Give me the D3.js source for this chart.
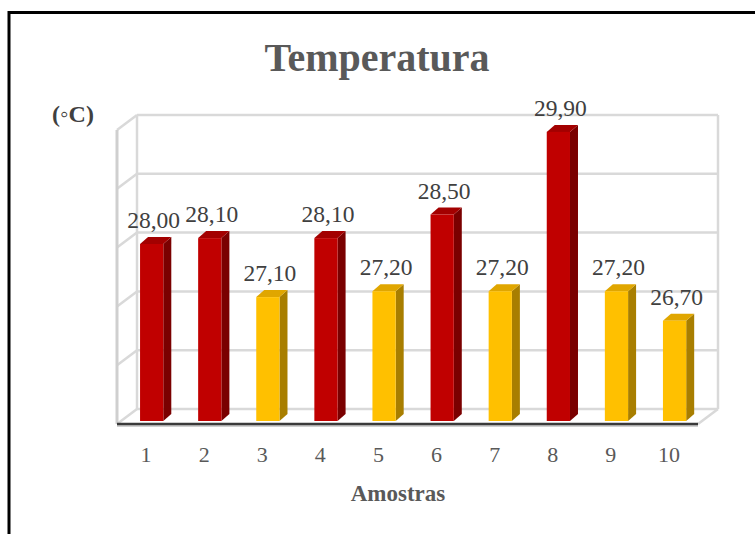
<!DOCTYPE html>
<html>
<head>
<meta charset="utf-8">
<script src="https://cdn.jsdelivr.net/npm/d3@7/dist/d3.min.js"></script>
<style>
  html, body { margin: 0; padding: 0; background: #fff; }
  svg { display: block; }
</style>
</head>
<body>
<svg id="chart" width="755" height="534"></svg>
<script>
const categories = ["1", "2", "3", "4", "5", "6", "7", "8", "9", "10"];
const values = [28.00, 28.10, 27.10, 28.10, 27.20, 28.50, 27.20, 29.90, 27.20, 26.70];
const groups = ["alta", "alta", "baixa", "alta", "baixa", "alta", "baixa", "alta", "baixa", "baixa"];
const yTicks = [25, 26, 27, 28, 29, 30];
const title = "Temperatura";
const xTitle = "Amostras";
const yTitle = "(\u25E6C)";

const svg = d3.select("#chart");
const font = "'Liberation Serif', 'Times New Roman', serif";

// frame
svg.append("rect").attr("x", 9).attr("y", 12.5).attr("width", 800).attr("height", 600)
  .attr("fill", "#fff").attr("stroke", "#000").attr("stroke-width", 3);

// geometry
const depth = { dx: 20, dy: -15 };
const x = d3.scaleBand().domain(categories).range([117, 698]).padding(0);
const yFront = d3.scaleLinear().domain([25, 30]).range([424, 130]);
const yBack = d3.scaleLinear().domain([25, 30]).range([409, 115]);
const yBar = d3.scaleLinear().domain([25, 30]).range([421, 126]);
const xL = x.range()[0], xR = x.range()[1];

const colors = {
  alta:  { front: "#C00000", side: "#7A0000", top: "#A30000" },
  baixa: { front: "#FFC000", side: "#A87E00", top: "#E0A600" }
};

const wallStroke = "#d9d9d9";
const walls = svg.append("g");

walls.selectAll("line.grid").data(yTicks).enter().append("line")
  .attr("x1", xL + depth.dx).attr("x2", xR + depth.dx)
  .attr("y1", d => yBack(d)).attr("y2", d => yBack(d))
  .attr("stroke", wallStroke).attr("stroke-width", 2.5);
walls.selectAll("line.lw").data(yTicks).enter().append("line")
  .attr("x1", xL).attr("x2", xL + depth.dx)
  .attr("y1", d => yFront(d)).attr("y2", d => yBack(d))
  .attr("stroke", wallStroke).attr("stroke-width", 2.5);
walls.append("line").attr("x1", xL + depth.dx).attr("x2", xL + depth.dx)
  .attr("y1", yBack(30)).attr("y2", yBack(25)).attr("stroke", wallStroke).attr("stroke-width", 2.5);
walls.append("line").attr("x1", xR + depth.dx).attr("x2", xR + depth.dx)
  .attr("y1", yBack(30)).attr("y2", yBack(25)).attr("stroke", wallStroke).attr("stroke-width", 2.5);
walls.append("line").attr("x1", xL).attr("x2", xL)
  .attr("y1", yFront(30)).attr("y2", yFront(25)).attr("stroke", "#cfcfcf").attr("stroke-width", 3);
walls.append("line").attr("x1", xR).attr("x2", xR + depth.dx)
  .attr("y1", yFront(25)).attr("y2", yBack(25)).attr("stroke", wallStroke).attr("stroke-width", 2.5);

// bars
const bw = x.bandwidth() * 0.4;
const bOff = 6;
const bd = { dx: 8, dy: -7 };
const bars = svg.append("g").selectAll("g").data(values).enter().append("g");
bars.each(function(v, i) {
  const g = d3.select(this);
  const c = colors[groups[i]];
  const x0 = x(categories[i]) + x.bandwidth() / 2 - bOff;
  const x1 = x0 + bw;
  const yt = yBar(v), yb = yBar(25);
  g.append("path")
    .attr("d", `M${x1},${yt}L${x1 + bd.dx},${yt + bd.dy}L${x1 + bd.dx},${yb + bd.dy}L${x1},${yb}Z`)
    .attr("fill", c.side);
  g.append("path")
    .attr("d", `M${x0},${yt}L${x0 + bd.dx},${yt + bd.dy}L${x1 + bd.dx},${yt + bd.dy}L${x1},${yt}Z`)
    .attr("fill", c.top);
  g.append("rect").attr("x", x0).attr("y", yt).attr("width", bw).attr("height", yb - yt)
    .attr("fill", c.front);
  g.append("text")
    .attr("x", x0 + bw / 2 + 2).attr("y", yt - 16)
    .attr("text-anchor", "middle")
    .attr("font-family", font).attr("font-size", 23.5).attr("fill", "#404040")
    .text(v.toFixed(2).replace(".", ","));
});

// floor front edge
svg.append("line").attr("x1", xL).attr("x2", xR)
  .attr("y1", yFront(25) + 2).attr("y2", yFront(25) + 2)
  .attr("stroke", "#d0d0d0").attr("stroke-width", 2);
svg.append("line").attr("x1", xL).attr("x2", xR)
  .attr("y1", yFront(25)).attr("y2", yFront(25))
  .attr("stroke", "#3a3a3a").attr("stroke-width", 2.5);

// category labels
svg.append("g").selectAll("text").data(categories).enter().append("text")
  .attr("x", d => x(d) + x.bandwidth() / 2)
  .attr("y", 462)
  .attr("text-anchor", "middle")
  .attr("font-family", font).attr("font-size", 22).attr("fill", "#595959")
  .text(d => d);

// titles
svg.append("text").attr("x", 377).attr("y", 71).attr("text-anchor", "middle")
  .attr("font-family", font).attr("font-size", 40).attr("font-weight", "bold").attr("fill", "#595959")
  .text(title);
svg.append("text").attr("x", 398).attr("y", 501).attr("text-anchor", "middle")
  .attr("font-family", font).attr("font-size", 23).attr("font-weight", "bold").attr("fill", "#595959")
  .text(xTitle);
svg.append("text").attr("x", 73).attr("y", 122).attr("text-anchor", "middle")
  .attr("font-family", font).attr("font-size", 24).attr("font-weight", "bold").attr("fill", "#404040")
  .text(yTitle);
</script>
</body>
</html>
